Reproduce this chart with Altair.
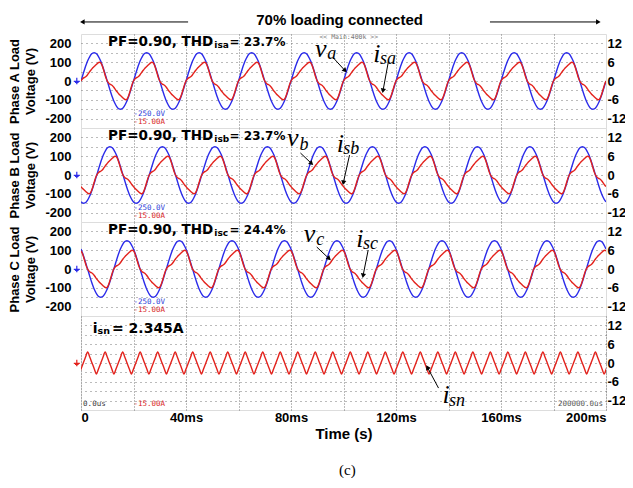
import altair as alt
import pandas as pd

# ---------------- data ----------------
# one 20 ms cycle of phase-A load voltage (V), 0.5 ms steps
va_cycle = [0, 23, 46, 68, 88, 106, 121, 134, 143, 148, 150, 148, 143, 134, 121, 106, 88, 68, 46, 23,
            0, -23, -46, -68, -88, -106, -121, -134, -143, -148, -150, -148, -143, -134, -121, -106, -88, -68, -46, -23]
# one 20 ms cycle of phase-A source current (A), 0.5 ms steps
isa_cycle = [0.0, 0.6, 1.0, 1.2, 1.5, 2.0, 2.6, 3.2, 3.7, 4.2, 4.6, 5.0, 5.4, 5.8, 6.0, 5.8, 5.0, 3.8, 2.4, 1.0,
             0.0, -0.6, -1.0, -1.2, -1.5, -2.0, -2.6, -3.2, -3.7, -4.2, -4.6, -5.0, -5.4, -5.8, -6.0, -5.8, -5.0, -3.8, -2.4, -1.0]
# delay of each phase's waveform relative to phase A (ms)
phase_delay = {"A": 0.0, "B": 6.0, "C": 12.5}
# neutral current: one 150 Hz period (ms, A)
isn_cycle_t = [0.0, 0.83, 1.67, 2.5, 3.33, 4.17, 5.0, 5.83]
isn_cycle = [-3.5, -1.8, 0.0, 1.8, 3.5, 1.8, 0.0, -1.8]
isn_period = 6.67
isn_first_trough = -0.8

phases = ["A", "B", "C"]
thd_sub = ["isa", "isb", "isc"]
thd_val = ["= 23.7%", "= 23.7%", "= 24.4%"]
volt_titles = [["Phase A Load", "Voltage (V)"], ["Phase B Load", "Voltage (V)"], ["Phase C Load", "Voltage (V)"]]
v_subs = ["a", "b", "c"]
i_subs = ["sa", "sb", "sc"]
x_ticks = [0, 20, 40, 60, 80, 100, 120, 140, 160, 180, 200]

# annotation anchors (ms, V) per phase panel
v_lab = [(89.1, 128, 93.8, 117), (78.5, 154, 83.2, 133), (84.9, 144, 89.6, 128)]
i_lab = [(111.3, 101, 113.9, 90), (97.4, 122, 99.9, 112), (104.9, 117, 107.4, 106)]
v_arrow = [(96.2, 122, 100.4, 58, 137), (83.6, 117, 87.6, 64, 132), (89.8, 117, 94.3, 58, 132)]
i_arrow = [(117.0, 96, 115.1, -48, 190), (102.3, 106, 100.0, -37, 192), (109.4, 101, 107.5, -32, 190)]

BLUE = "#2b2bea"
RED = "#e3221c"
SANS = "Liberation Sans"
BOLDW = "DejaVu Sans"
SERIF = "Liberation Serif"
MONO = "DejaVu Sans Mono"
W, H = 525, 94
V_DOMAIN = [-250, 250]
I_DOMAIN = [-15, 15]
GROUND = "M0,-1V0.1M-0.9,0.1H0.9M-0.55,0.45H0.55M-0.2,0.8H0.2"


def tile_cycle(cycle, delay_ms, step=0.5, n_cycles=10):
    n = len(cycle)
    shift = int(round(delay_ms / step))
    return [(k * step, cycle[(k - shift) % n]) for k in range(n_cycles * n + 1)]


def xenc(bottom):
    if bottom:
        ax = alt.Axis(values=x_ticks, labelExpr="datum.value == 0 ? '0' : datum.value + 'ms'",
                      labelFont=SANS, labelFontWeight="bold", labelFontSize=13, labelColor="black",
                      labelPadding=1, labelFlush=True, ticks=False, domain=False, grid=True,
                      gridDash=[1, 2], gridColor="#777", title="Time (s)", titleFont=SANS,
                      titleFontWeight="bold", titleFontSize=15, titleColor="black", titlePadding=2)
    else:
        ax = alt.Axis(values=x_ticks[1:-1], labels=False, ticks=False, domain=False, grid=True,
                      gridDash=[1, 2], gridColor="#777", title=None)
    return alt.X("t:Q", scale=alt.Scale(domain=[0, 200], nice=False), axis=ax)


def yV(title):
    return alt.Y("v:Q", scale=alt.Scale(domain=V_DOMAIN, nice=False),
                 axis=alt.Axis(values=list(range(-200, 201, 50)),
                               labelExpr="datum.value % 100 == 0 ? '' + datum.value : ''",
                               labelOverlap=False, grid=True, gridDash=[1, 4], gridColor="#777",
                               ticks=False, domain=False, labelFont=SANS, labelFontWeight="bold",
                               labelFontSize=13, labelColor="black", labelPadding=10,
                               title=title, titleFont=SANS, titleFontWeight="bold", titleFontSize=13,
                               titleLineHeight=16, titlePadding=7, titleColor="black"))


def yI(grid):
    if grid:
        ax = alt.Axis(orient="right", values=list(range(-12, 13, 3)),
                      labelExpr="datum.value % 6 == 0 ? '' + datum.value : ''", grid=True,
                      gridDash=[1, 4], gridColor="#777", labelOverlap=False, ticks=False, domain=False,
                      labelFont=SANS, labelFontWeight="bold", labelFontSize=13, labelColor="black",
                      labelPadding=1, title=None)
    else:
        ax = alt.Axis(orient="right", values=[-12, -6, 0, 6, 12], labelExpr="'' + datum.value",
                      labelOverlap=False, grid=False, ticks=False, domain=False, labelFont=SANS,
                      labelFontWeight="bold", labelFontSize=13, labelColor="black", labelPadding=1,
                      title=None)
    return alt.Y("i:Q", scale=alt.Scale(domain=I_DOMAIN, nice=False), axis=ax)


def text_layer(df, y, bottom, **kw):
    return alt.Chart(df).mark_text(**kw).encode(x=xenc(bottom), y=y, text="s:N")


def arrow_layers(starts, ends, angles, y, yfield, bottom):
    seg = pd.DataFrame({"t": [s[0] for s in starts], yfield: [s[1] for s in starts],
                        "t2": [e[0] for e in ends], "y2": [e[1] for e in ends]})
    heads = pd.DataFrame({"t": [e[0] for e in ends], yfield: [e[1] for e in ends], "ang": angles})
    rule = alt.Chart(seg).mark_rule(color="black", strokeWidth=1).encode(
        x=xenc(bottom), x2="t2:Q", y=y, y2="y2:Q")
    head = alt.Chart(heads).mark_point(shape="triangle", filled=True, size=28, color="black", opacity=1).encode(
        x=xenc(bottom), y=y, angle=alt.Angle("ang:Q", scale=None))
    return [rule, head]


panels = []
for p, ph in enumerate(phases):
    wv = pd.DataFrame(tile_cycle(va_cycle, phase_delay[ph]), columns=["t", "v"])
    wi = pd.DataFrame(tile_cycle(isa_cycle, phase_delay[ph]), columns=["t", "i"])
    Y = yV(volt_titles[p])
    L = [alt.Chart(wv).mark_line(color=BLUE, strokeWidth=1.4, interpolate="monotone", clip=True)
         .encode(x=xenc(False), y=Y)]
    L.append(text_layer(pd.DataFrame({"t": [50.4], "v": [184], "s": ["PF=0.90, THD"]}), Y, False,
                        font=BOLDW, fontWeight="bold", fontSize=13.5, align="right", baseline="alphabetic", color="black"))
    L.append(text_layer(pd.DataFrame({"t": [50.8], "v": [176], "s": [thd_sub[p]]}), Y, False,
                        font=BOLDW, fontWeight="bold", fontSize=9, align="left", baseline="alphabetic", color="black"))
    L.append(text_layer(pd.DataFrame({"t": [56.6], "v": [184], "s": [thd_val[p]]}), Y, False,
                        font=BOLDW, fontWeight="bold", fontSize=12, align="left", baseline="alphabetic", color="black"))
    L.append(text_layer(pd.DataFrame({"t": [20.0], "v": [-177], "s": ["-250.0V"]}), Y, False,
                        font=MONO, fontSize=7.5, align="left", baseline="middle", color="#2b3bd8"))
    L.append(text_layer(pd.DataFrame({"t": [20.0], "v": [-219], "s": ["-15.00A"]}), Y, False,
                        font=MONO, fontSize=7.5, align="left", baseline="middle", color="#d82222"))
    L.append(alt.Chart(pd.DataFrame({"t": [-1.6], "v": [0]})).mark_point(
        shape=GROUND, filled=False, size=45, color=BLUE, strokeWidth=1.2, opacity=1).encode(x=xenc(False), y=Y))
    vl = v_lab[p]
    L.append(text_layer(pd.DataFrame({"t": [vl[0]], "v": [vl[1]], "s": ["v"]}), Y, False,
                        font=SERIF, fontStyle="italic", fontSize=26, align="left", baseline="alphabetic", color="black"))
    L.append(text_layer(pd.DataFrame({"t": [vl[2]], "v": [vl[3]], "s": [v_subs[p]]}), Y, False,
                        font=SERIF, fontStyle="italic", fontSize=18, align="left", baseline="alphabetic", color="black"))
    il = i_lab[p]
    L.append(text_layer(pd.DataFrame({"t": [il[0]], "v": [il[1]], "s": ["i"]}), Y, False,
                        font=SERIF, fontStyle="italic", fontSize=26, align="left", baseline="alphabetic", color="black"))
    L.append(text_layer(pd.DataFrame({"t": [il[2]], "v": [il[3]], "s": [i_subs[p]]}), Y, False,
                        font=SERIF, fontStyle="italic", fontSize=18, align="left", baseline="alphabetic", color="black"))
    va_ = v_arrow[p]
    ia_ = i_arrow[p]
    L.extend(arrow_layers([(va_[0], va_[1]), (ia_[0], ia_[1])], [(va_[2], va_[3]), (ia_[2], ia_[3])],
                          [va_[4], ia_[4]], Y, "v", False))
    if p == 0:
        L.append(text_layer(pd.DataFrame({"t": [102.0], "v": [234], "s": ["<< Main:400k >>"]}), Y, False,
                            font=MONO, fontSize=6.5, align="center", baseline="middle", color="#777"))
        L.append(text_layer(pd.DataFrame({"t": [98.5], "v": [326], "s": ["70% loading connected"]}), Y, False,
                            font=SANS, fontWeight="bold", fontSize=15, align="center", baseline="middle", color="black"))
        L.extend(arrow_layers([(40.8, 314), (155.8, 314)], [(0.8, 314), (196.8, 314)], [270, 90], Y, "v", False))
    red = alt.Chart(wi).mark_line(color=RED, strokeWidth=1.4, interpolate="monotone", clip=True).encode(
        x=xenc(False), y=yI(False))
    panel = alt.layer(alt.layer(*L), red).resolve_scale(y="independent").properties(width=W, height=H)
    panels.append(panel)

# neutral current panel
rows = []
for k in range(32):
    for tt, vv in zip(isn_cycle_t, isn_cycle):
        rows.append((isn_first_trough + k * isn_period + tt, vv))
wn = pd.DataFrame(rows, columns=["t", "i"])
wn = wn[wn["t"] <= 201.5]
YD = yI(True)
D = [alt.Chart(wn).mark_line(color=RED, strokeWidth=1.4, interpolate="monotone", clip=True).encode(
    x=xenc(True), y=YD)]
D.append(text_layer(pd.DataFrame({"t": [4.5], "i": [9.6], "s": ["i"]}), YD, True,
                    font=BOLDW, fontWeight="bold", fontSize=14, align="left", baseline="alphabetic", color="black"))
D.append(text_layer(pd.DataFrame({"t": [6.3], "i": [9.1], "s": ["sn"]}), YD, True,
                    font=BOLDW, fontWeight="bold", fontSize=9.5, align="left", baseline="alphabetic", color="black"))
D.append(text_layer(pd.DataFrame({"t": [11.8], "i": [9.6], "s": ["= 2.345A"]}), YD, True,
                    font=BOLDW, fontWeight="bold", fontSize=14, align="left", baseline="alphabetic", color="black"))
D.append(text_layer(pd.DataFrame({"t": [0.8], "i": [-13.1], "s": ["0.0us"]}), YD, True,
                    font=MONO, fontSize=7.5, align="left", baseline="middle", color="#333"))
D.append(text_layer(pd.DataFrame({"t": [20.0], "i": [-13.1], "s": ["-15.00A"]}), YD, True,
                    font=MONO, fontSize=7.5, align="left", baseline="middle", color="#d82222"))
D.append(text_layer(pd.DataFrame({"t": [198.9], "i": [-13.1], "s": ["200000.0us"]}), YD, True,
                    font=MONO, fontSize=7.5, align="right", baseline="middle", color="#555"))
D.append(alt.Chart(pd.DataFrame({"t": [-1.6], "i": [0]})).mark_point(
    shape=GROUND, filled=False, size=45, color=RED, strokeWidth=1.2, opacity=1).encode(x=xenc(True), y=YD))
D.append(text_layer(pd.DataFrame({"t": [137.7], "i": [-12.8], "s": ["i"]}), YD, True,
                    font=SERIF, fontStyle="italic", fontSize=26, align="left", baseline="alphabetic", color="black"))
D.append(text_layer(pd.DataFrame({"t": [140.2], "i": [-13.7], "s": ["sn"]}), YD, True,
                    font=SERIF, fontStyle="italic", fontSize=18, align="left", baseline="alphabetic", color="black"))
D.append(text_layer(pd.DataFrame({"t": [101.5], "i": [-34.1], "s": ["(c)"]}), YD, True,
                    font=SERIF, fontSize=15, align="center", baseline="middle", color="black"))
D.extend(arrow_layers([(136.2, -8.0)], [(132.1, -1.6)], [331], YD, "i", True))
panels.append(alt.layer(*D).properties(width=W, height=H))

chart = alt.vconcat(*panels, spacing=0, bounds="flush").properties(
    autosize=alt.AutoSizeParams(type="none"),
    padding={"left": 73, "top": 26, "right": 19, "bottom": 444}
).configure_view(stroke="#3a3a3a", strokeWidth=1.5).configure(background="white")

chart.save("out.html", embed_options={"renderer": "svg", "actions": False})
